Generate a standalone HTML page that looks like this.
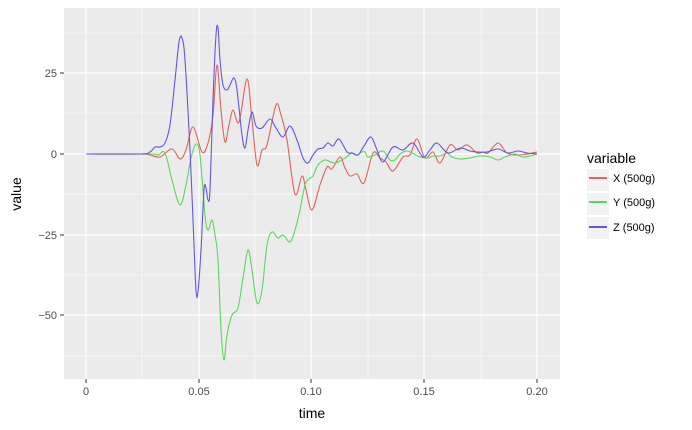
<!DOCTYPE html>
<html><head><meta charset="utf-8"><style>body{margin:0;background:#fff}svg{display:block;font-family:"Liberation Sans","DejaVu Sans",sans-serif}</style></head>
<body>
<svg id="s" width="692" height="430" viewBox="0 0 692 430">
<rect x="64" y="8" width="496" height="371" fill="#ebebeb"/>
<g stroke="#fff" stroke-width="0.6">
<line x1="142" x2="142" y1="8" y2="379"/><line x1="255" x2="255" y1="8" y2="379"/><line x1="368" x2="368" y1="8" y2="379"/><line x1="481" x2="481" y1="8" y2="379"/>
<line x1="64" x2="560" y1="33" y2="33"/><line x1="64" x2="560" y1="113" y2="113"/><line x1="64" x2="560" y1="194" y2="194"/><line x1="64" x2="560" y1="275" y2="275"/><line x1="64" x2="560" y1="356" y2="356"/>
</g>
<g stroke="#fff" stroke-width="1.2">
<line x1="86" x2="86" y1="8" y2="379"/><line x1="199" x2="199" y1="8" y2="379"/><line x1="311" x2="311" y1="8" y2="379"/><line x1="424" x2="424" y1="8" y2="379"/><line x1="537" x2="537" y1="8" y2="379"/>
<line x1="64" x2="560" y1="73" y2="73"/><line x1="64" x2="560" y1="154" y2="154"/><line x1="64" x2="560" y1="235" y2="235"/><line x1="64" x2="560" y1="315" y2="315"/>
</g>
<g id="curves" fill="none" stroke-width="1.1"></g>
<g stroke="#333" stroke-width="1">
<line x1="60" x2="64" y1="73" y2="73"/><line x1="60" x2="64" y1="154" y2="154"/><line x1="60" x2="64" y1="235" y2="235"/><line x1="60" x2="64" y1="315" y2="315"/>
<line x1="86" x2="86" y1="379" y2="383"/><line x1="199" x2="199" y1="379" y2="383"/><line x1="311" x2="311" y1="379" y2="383"/><line x1="424" x2="424" y1="379" y2="383"/><line x1="537" x2="537" y1="379" y2="383"/>
</g>
<g font-size="11" fill="#4d4d4d" text-anchor="end">
<text x="57" y="77">25</text><text x="57" y="158">0</text><text x="57" y="239">−25</text><text x="57" y="319">−50</text>
</g>
<g font-size="11" fill="#4d4d4d" text-anchor="middle">
<text x="86" y="395">0</text><text x="199" y="395">0.05</text><text x="311" y="395">0.10</text><text x="424" y="395">0.15</text><text x="537" y="395">0.20</text>
</g>
<text x="312" y="418" font-size="14" text-anchor="middle">time</text>
<text transform="translate(21,194) rotate(-90)" font-size="14" text-anchor="middle">value</text>
<text x="587" y="163" font-size="14">variable</text>
<rect x="587" y="169" width="22" height="22" fill="#f2f2f2"/><rect x="587" y="193" width="22" height="22" fill="#f2f2f2"/><rect x="587" y="217" width="22" height="22" fill="#f2f2f2"/>
<line x1="589" x2="607" y1="178" y2="178" stroke="#e0625a" stroke-width="2"/>
<line x1="589" x2="607" y1="202" y2="202" stroke="#5ed45e" stroke-width="2"/>
<line x1="589" x2="607" y1="227" y2="227" stroke="#6257e0" stroke-width="2"/>
<g font-size="11"><text x="613" y="182">X (500g)</text><text x="613" y="206">Y (500g)</text><text x="613" y="231">Z (500g)</text></g>
</svg>
<script>
var R=[[86,154],[140,154],[150,155],[160,157],[172,149],[180,159],[186,150],[193,127],[202,152],[208,143],[213,115],[217,65],[221,110],[225,142],[229,125],[233,110],[239,122],[247,79],[252,120],[257,165],[262,150],[267,145],[276,105],[281,115],[287,140],[295,194],[302,176],[306,190],[312,210],[320,185],[327,167],[332,169],[340,157],[345,168],[350,176],[357,174],[364,183],[373,153],[380,158],[386,162],[393,171],[403,157],[410,155],[417,139],[425,158],[433,152],[440,163],[450,145],[458,150],[467,145],[477,153],[483,152],[488,153],[498,143],[507,153],[517,155],[527,154],[537,152]];
var G=[[86,154],[150,154],[158,155],[165,153],[172,180],[180,205],[186,185],[191,158],[196,144],[200,155],[205,215],[208,230],[212,220],[215,235],[218,260],[221,330],[224,360],[227,335],[232,315],[238,308],[243,278],[248,250],[252,270],[257,303],[262,290],[267,245],[272,232],[278,238],[283,235],[290,242],[295,230],[300,210],[305,185],[310,178],[313,176],[318,165],[325,160],[335,163],[345,158],[352,153],[357,155],[362,152],[365,152],[368,157],[375,155],[383,151],[390,160],[395,160],[400,154],[407,151],[412,153],[420,157],[428,158],[433,156],[440,156],[447,153],[452,157],[460,159],[470,158],[480,156],[490,157],[498,160],[505,157],[515,154],[522,157],[530,156],[537,154]];
var B=[[86,154],[140,154],[150,152],[155,147],[160,147],[165,143],[170,125],[175,80],[179,42],[182,38],[185,60],[190,150],[193,220],[196,290],[198,292],[201,250],[204,190],[206,188],[208,200],[210,190],[213,100],[216,35],[218,28],[220,60],[223,85],[227,90],[230,85],[234,78],[237,90],[242,135],[245,148],[248,130],[252,112],[256,126],[262,128],[270,119],[276,128],[283,137],[290,126],[297,140],[303,158],[308,163],[313,155],[318,149],[323,148],[328,143],[333,146],[339,139],[347,152],[352,153],[358,155],[364,146],[371,137],[377,150],[383,162],[393,147],[403,150],[413,143],[423,157],[430,150],[437,143],[448,153],[460,148],[470,151],[477,152],[487,152],[498,149],[508,153],[518,151],[527,153],[537,154]];
function path(p){var d="M"+p[0][0]+","+p[0][1];for(var i=0;i<p.length-1;i++){var a=p[i-1]||p[i],b=p[i],c=p[i+1],e=p[i+2]||c;d+=" C"+(b[0]+(c[0]-a[0])/6)+","+(b[1]+(c[1]-a[1])/6)+" "+(c[0]-(e[0]-b[0])/6)+","+(c[1]-(e[1]-b[1])/6)+" "+c[0]+","+c[1];}return d;}
var g=document.getElementById("curves"),ns="http://www.w3.org/2000/svg";
[[R,"#e0625a"],[G,"#5ed45e"],[B,"#6257e0"]].forEach(function(s){var p=document.createElementNS(ns,"path");p.setAttribute("d",path(s[0]));p.setAttribute("stroke",s[1]);g.appendChild(p);});
</script>
</body></html>
